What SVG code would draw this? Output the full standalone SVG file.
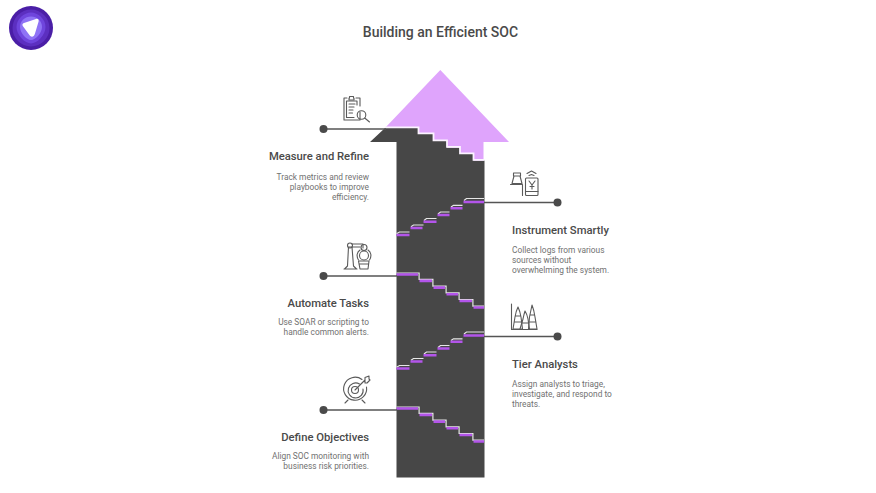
<svg xmlns="http://www.w3.org/2000/svg" width="876" height="493" viewBox="0 0 876 493">
<style>
text{font-family:Roboto,"Liberation Sans",sans-serif}
.t{font-size:14px;font-weight:500;fill:#4a4a4a;text-anchor:middle}
.h{font-size:11.25px;font-weight:500;fill:#4a4a4a}
.b{font-size:8.35px;fill:#717171}
.e{text-anchor:end}
.ln{stroke:#555;stroke-width:1.5;fill:none}
.dot{fill:#4a4a4a}
.ic{fill:none;stroke:#5a5a5a;stroke-width:1.1;stroke-linejoin:round;stroke-linecap:round}
.edge{fill:none;stroke:#e6e6e6;stroke-width:1.2}
.tr{fill:none;stroke:#b355ea;stroke-width:2.6}
</style>
<defs>
<g id="down">
<path class="edge" d="M0 -1.800H22.600V4.600H36.400V11.300H49.600V18H62.600V24.700H76.400V31.400H87.500"/>
<path class="tr" d="M0 0H21.500M23 6.400H35.500M37 13.100H48.500M50 19.800H61.500M63 26.500H75.500M77 33H87.500" transform="translate(0 -.3)"/>
</g>
<g id="up">
<path class="edge" d="M0 -1.300L3 -3H13M14.500 -8.200L17 -10H27M27.500 -14.500L30 -16.500H40M41.500 -21L44 -23H53M54.500 -28L57 -29.700H66M67.500 -34.500L70 -36.500H87.500"/>
<path class="tr" d="M0 0H13M14 -7H26M27 -13.300H40M41 -20H53M54 -26.700H66M67 -33H87.500"/>
</g>
</defs>
<g id="logo">
<circle cx="31" cy="28" r="22" fill="#4a1ea6"/>
<circle cx="31" cy="28" r="18.500" fill="#5c2fc0"/>
<path d="M31 12.500C38 12.500 45.500 19 45.500 27C45.500 35 37 43.500 31 43.500C25 43.500 16.500 35 16.500 27C16.500 19 24 12.500 31 12.500Z" fill="#6f45dd"/>
<path d="M31 16.500C37 16.500 42 21 42 27C42 33 35.500 40 31 40C26.500 40 20 33 20 27C20 21 25 16.500 31 16.500Z" fill="#8f73f5"/>
<path d="M24 23L36 19C38 18.500 39 19.500 38.600 21.500L35 33.500C33.800 37.500 31 37.500 29.400 35L22.800 26C22 24.800 22.500 23.500 24 23Z" fill="#fff"/>
</g>
<text class="t" x="440.500" y="36.500">Building an Efficient SOC</text>
<g id="arrow">
<path d="M370 142L385 128H418.500V134H433.500V141H447V147.500H460V154H473.500V160.500H484.500V477.500H396.500V142Z" fill="#474747"/>
<path d="M440.300 70L509 142H483.500V160.500H473.500V154H460V147.500H447V141H433.500V134H418.500V128H385Z" fill="#dfa4fc"/>
<path d="M385 127.300H418.500V133.300H433.500V140.300H447V146.800H460V153.300H473.500V159.800H484.500" fill="none" stroke="#fbf3ff" stroke-width="1.800"/>
</g>
<g id="stairs">
<use href="#up" x="396.500" y="235"/>
<use href="#down" x="396.500" y="274.800"/>
<use href="#up" x="396.500" y="368.500"/>
<use href="#down" x="396.500" y="408.800"/>
</g>
<g id="connectors">
<path class="ln" d="M323 129H386"/><circle class="dot" cx="323.500" cy="129" r="4"/>
<path class="ln" d="M484 202.500H557"/><circle class="dot" cx="557.500" cy="202.500" r="4"/>
<path class="ln" d="M323 276H397"/><circle class="dot" cx="323.500" cy="276" r="4"/>
<path class="ln" d="M484 336.500H557"/><circle class="dot" cx="557.500" cy="336.500" r="4"/>
<path class="ln" d="M323 410H397"/><circle class="dot" cx="323.500" cy="410" r="4"/>
</g>
<g id="measure">
<g class="ic">
<path d="M347 98H344V120H360V112M360 106V98H356"/>
<path d="M349 98L349 100H354L354 98H353.500V96.500H349.500V98Z"/>
<path d="M346.500 101H357V105M346.500 101V117.500H354"/>
<path d="M349 104H355M349 107H354M349 110H353M349 113H352.500"/>
<circle cx="361.500" cy="115" r="4.300"/><path d="M364.700 118L369.500 122"/>
</g>
<text class="h e" x="369" y="160">Measure and Refine</text>
<text class="b e" x="369" y="179.500">Track metrics and review</text>
<text class="b e" x="369" y="189.500">playbooks to improve</text>
<text class="b e" x="369" y="199.500">efficiency.</text>
</g>
<g id="instrument">
<g class="ic">
<rect x="525.500" y="178" width="12.500" height="17.500" rx="1"/>
<path d="M525.500 191.500H538M529 181L532 185L535 181M532 185V189M530 186.500H534"/>
<path d="M527 173.500L531.500 171L536 173.500M529 175.500L531.500 174.500L534 175.500"/>
<path d="M513.500 173H520.500V176H513.500ZM514 176L512 183.500H522L520 176ZM510.500 184.500H522.500V195.500"/>
</g>
<text class="h" x="512" y="233.500">Instrument Smartly</text>
<text class="b" x="512" y="253">Collect logs from various</text>
<text class="b" x="512" y="263">sources without</text>
<text class="b" x="512" y="273">overwhelming the system.</text>
</g>
<g id="automate">
<g class="ic">
<path d="M344.500 269L347.500 266L348.500 247H352L353.500 266L356.500 269ZM344 269H357"/>
<circle cx="350" cy="245.500" r="2.500"/>
<path d="M352 244H363V248M352 247H360"/>
<circle cx="364" cy="247.500" r="3"/><circle cx="364" cy="255.500" r="4.500"/>
<path d="M358.500 260C356 256 357 252 360 250M369.500 260C372 256 371 252 368 250"/>
<path d="M358.500 261H369L368 269H360ZM359 264H368.500"/>
</g>
<text class="h e" x="369" y="307">Automate Tasks</text>
<text class="b e" x="369" y="325">Use SOAR or scripting to</text>
<text class="b e" x="369" y="335">handle common alerts.</text>
</g>
<g id="tier">
<g class="ic">
<path d="M511.500 304V329.500H537"/>
<path d="M513 329L515 317Q516 311 518 307Q520 311 521 317L522.500 329ZM515 322H521M516 316H520"/>
<path d="M520 329L523 319Q524 314 525 311Q527 314 528 319L529.500 329M522 323H528"/>
<path d="M528.500 329L529.500 317Q531 310 532 305Q534 310 535 317L537 329ZM530 322H536M530.500 315H534.500"/>
</g>
<text class="h" x="512" y="367.500">Tier Analysts</text>
<text class="b" x="512" y="387">Assign analysts to triage,</text>
<text class="b" x="512" y="397">investigate, and respond to</text>
<text class="b" x="512" y="407">threats.</text>
</g>
<g id="define">
<g class="ic">
<path d="M362 379.500A11.500 11.500 0 1 0 366.500 387"/>
<path d="M359.500 384A7.500 7.500 0 1 0 363 389"/>
<circle cx="355" cy="390" r="3.500"/>
<path d="M355 390L365 380M365 380V377.500L369 376V379L370 380L367 383H365Z"/>
<path d="M348 400L345 403M362 400L365 403"/>
</g>
<text class="h e" x="369" y="441">Define Objectives</text>
<text class="b e" x="369" y="458.500">Align SOC monitoring with</text>
<text class="b e" x="369" y="468.500">business risk priorities.</text>
</g>
</svg>
